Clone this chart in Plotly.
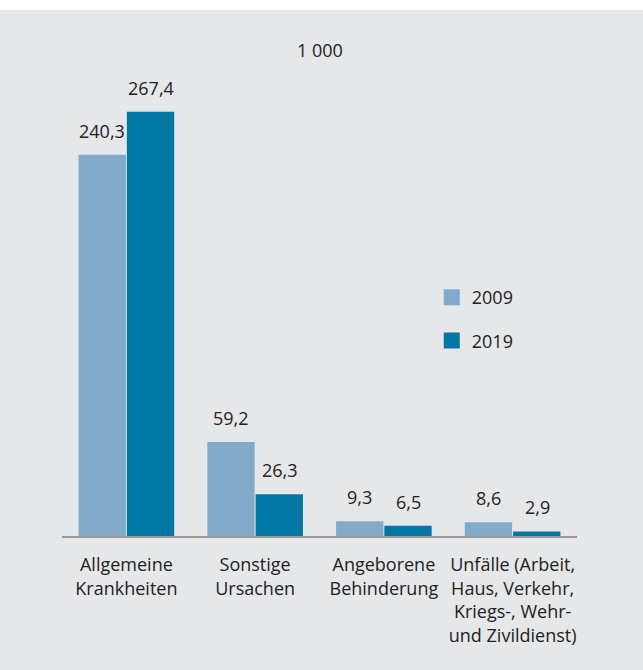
import plotly.graph_objects as go

categories = [
    "Allgemeine<br>Krankheiten",
    "Sonstige<br>Ursachen",
    "Angeborene<br>Behinderung",
    "Unfälle (Arbeit,<br>Haus, Verkehr,<br>Kriegs-, Wehr-<br>und Zivildienst)",
]
values_2009 = [240.3, 59.2, 9.3, 8.6]
values_2019 = [267.4, 26.3, 6.5, 2.9]
series_names = ["2009", "2019"]
colors = ["#82AACB", "#0077A4"]
unit_label = "1 000"

FONT = "Open Sans"
TXT = "#222222"
FS = 18

fig = go.Figure()
annotations = []
series = [values_2009, values_2019]
for k, (name, vals, col) in enumerate(zip(series_names, series, colors)):
    fig.add_trace(go.Bar(
        x=categories, y=vals, name=name, marker_color=col, marker_line_width=0,
        showlegend=False, hoverinfo="x+y",
    ))
    fig.add_trace(go.Scatter(
        x=[None], y=[None], mode="markers", name=name, legendgroup=name,
        marker=dict(symbol="square", size=17, color=col), showlegend=True,
    ))
    for cat, v in zip(categories, vals):
        annotations.append(dict(
            x=cat, y=v, xref="x", yref="y", text=f"{v:.1f}".replace(".", ","),
            showarrow=False, yanchor="bottom", xshift=(k - 0.5) * 49, yshift=10,
            font=dict(family=FONT, size=FS, color=TXT),
        ))

annotations.append(dict(text=unit_label, xref="paper", yref="paper",
                        x=(320 - 62) / 515, y=(536 - 50) / 476, showarrow=False,
                        xanchor="center", yanchor="middle",
                        font=dict(family=FONT, size=FS, color=TXT)))

fig.update_layout(
    width=643, height=670,
    margin=dict(l=62, r=66, t=60, b=134),
    paper_bgcolor="#E6E7E9", plot_bgcolor="#E6E7E9",
    separators=", ",
    barmode="group", bargap=0.25, bargroupgap=0.02,
    font=dict(family=FONT, size=FS, color=TXT),
    legend=dict(x=0.718, y=0.54, xanchor="left", yanchor="top",
                bgcolor="rgba(0,0,0,0)", font=dict(family=FONT, size=FS, color=TXT),
                tracegroupgap=17),
    xaxis=dict(showline=True, linecolor="#999999", linewidth=1.5, ticks="",
               ticklabelstandoff=12,
               tickfont=dict(family=FONT, size=FS, color=TXT), fixedrange=True),
    yaxis=dict(range=[0, 300], visible=False, showgrid=False, zeroline=False),
    shapes=[dict(type="rect", xref="paper", yref="paper", x0=-0.2, x1=1.2,
                 y0=(536 - 10) / 476, y1=536 / 476, fillcolor="white", line_width=0,
                 layer="above")],
    annotations=annotations,
)

fig.write_html("out.html", config={"displayModeBar": False},
               post_script="document.body.style.margin='0';document.body.style.overflow='hidden';")
